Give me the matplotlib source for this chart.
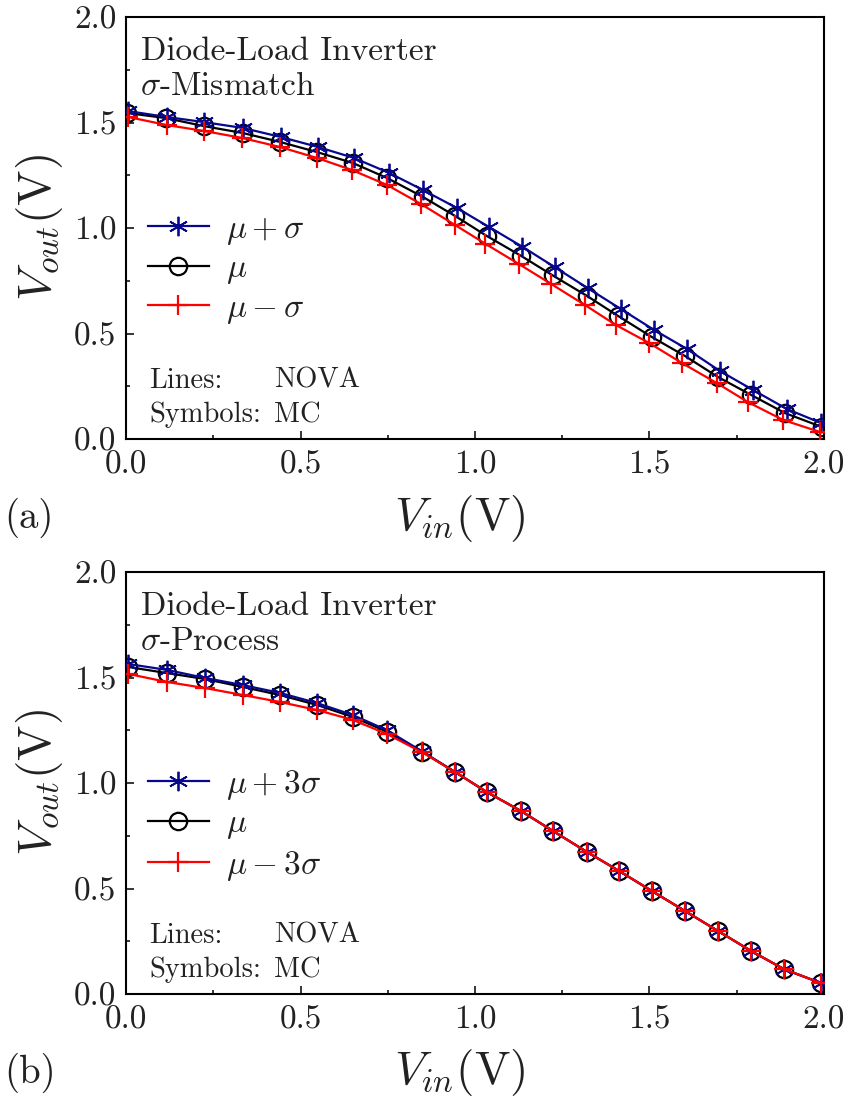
import matplotlib
matplotlib.use("Agg")
import matplotlib.pyplot as plt
from matplotlib.ticker import MultipleLocator

plt.rcParams['font.family'] = ['cmr10', 'DejaVu Serif']
plt.rcParams['mathtext.fontset'] = 'cm'
plt.rcParams['axes.formatter.use_mathtext'] = True
plt.rcParams['axes.unicode_minus'] = False

# ---------------- data: panel (a) sigma-mismatch ----------------
xa_plus = [0.006, 0.117, 0.223, 0.335, 0.444, 0.550, 0.653, 0.754, 0.851, 0.948, 1.040,
           1.135, 1.228, 1.323, 1.418, 1.513, 1.607, 1.702, 1.797, 1.894, 1.991]
ya_plus = [1.554, 1.526, 1.502, 1.474, 1.431, 1.384, 1.332, 1.261, 1.180, 1.095, 1.005,
           0.912, 0.815, 0.715, 0.616, 0.517, 0.427, 0.322, 0.232, 0.142, 0.076]
xa_mu = [0.003, 0.114, 0.223, 0.335, 0.441, 0.547, 0.650, 0.748, 0.851, 0.943, 1.034,
         1.132, 1.223, 1.321, 1.410, 1.507, 1.602, 1.696, 1.791, 1.888, 1.994]
ya_mu = [1.545, 1.521, 1.483, 1.450, 1.408, 1.360, 1.308, 1.237, 1.147, 1.057, 0.962,
         0.868, 0.775, 0.678, 0.583, 0.483, 0.393, 0.294, 0.209, 0.123, 0.057]
xa_minus = [0.006, 0.117, 0.223, 0.332, 0.441, 0.547, 0.647, 0.748, 0.845, 0.943, 1.030,
            1.125, 1.218, 1.315, 1.404, 1.499, 1.593, 1.693, 1.782, 1.883, 1.989]
ya_minus = [1.526, 1.488, 1.460, 1.427, 1.384, 1.332, 1.275, 1.204, 1.114, 1.014, 0.925,
            0.830, 0.735, 0.635, 0.540, 0.455, 0.360, 0.265, 0.175, 0.090, 0.033]

# ---------------- data: panel (b) sigma-process ----------------
xb = [0.006, 0.117, 0.226, 0.335, 0.441, 0.547, 0.650, 0.748, 0.848, 0.943, 1.034,
      1.132, 1.223, 1.321, 1.413, 1.507, 1.602, 1.696, 1.791, 1.885, 1.991]
yb_plus = [1.564, 1.536, 1.498, 1.464, 1.427, 1.379, 1.322, 1.250, 1.150, 1.052, 0.957,
           0.867, 0.773, 0.673, 0.583, 0.488, 0.393, 0.299, 0.204, 0.118, 0.052]
yb_mu = [1.550, 1.521, 1.493, 1.455, 1.417, 1.370, 1.313, 1.243, 1.148, 1.052, 0.957,
         0.867, 0.773, 0.673, 0.583, 0.488, 0.393, 0.299, 0.204, 0.118, 0.052]
yb_minus = [1.517, 1.479, 1.450, 1.417, 1.384, 1.346, 1.299, 1.232, 1.146, 1.052, 0.957,
            0.867, 0.773, 0.673, 0.583, 0.488, 0.393, 0.299, 0.204, 0.118, 0.052]

labels_a = [r'$\mu+\sigma$', r'$\mu$', r'$\mu-\sigma$']
labels_b = [r'$\mu+3\sigma$', r'$\mu$', r'$\mu-3\sigma$']
titles = [['Diode-Load Inverter', r'$\sigma$-Mismatch'],
          ['Diode-Load Inverter', r'$\sigma$-Process']]
panel_tags = ['(a)', '(b)']

BLUE = '#08088f'
RED = '#ff0000'
BLACK = '#000000'
TXT = '#222222'

W, H = 848, 1097
fig = plt.figure(figsize=(W / 100, H / 100), dpi=100)
ax1 = fig.add_axes([126 / W, 1 - 439 / H, 698 / W, 422 / H])
ax2 = fig.add_axes([126 / W, 1 - 994 / H, 698 / W, 422 / H])

asterisk = (6, 2, 0)

def draw(ax, series, labels, title, tag, label_y):
    styles = [dict(color=BLUE, marker=asterisk, ms=14, mew=1.3, zorder=3),
              dict(color=BLACK, marker='o', ms=12.5, mfc='none', mew=1.6, zorder=2),
              dict(color=RED, marker='+', ms=15, mew=1.6, zorder=4)]
    handles = []
    for (x, y), st, lab in zip(series, styles, labels):
        h, = ax.plot(x, y, lw=1.6, label=lab, **st)
        handles.append(h)
    ax.set_xlim(0, 2.0)
    ax.set_ylim(0, 2.0)
    ax.xaxis.set_major_locator(MultipleLocator(0.5))
    ax.xaxis.set_minor_locator(MultipleLocator(0.25))
    ax.yaxis.set_major_locator(MultipleLocator(0.5))
    ax.yaxis.set_minor_locator(MultipleLocator(0.25))
    ax.xaxis.set_major_formatter(plt.FormatStrFormatter('%.1f'))
    ax.yaxis.set_major_formatter(plt.FormatStrFormatter('%.1f'))
    ax.tick_params(which='both', direction='in', top=False, right=False,
                   labelsize=24, width=1.1, labelcolor=TXT)
    ax.tick_params(which='major', length=6)
    ax.tick_params(which='minor', length=3)
    ax.tick_params(axis='y', which='major', pad=7)
    ax.tick_params(axis='x', which='major', pad=8)
    for sp in ax.spines.values():
        sp.set_linewidth(1.5)
    ax.text(0.022, 0.898, title[0], transform=ax.transAxes, fontsize=24,
            va='baseline', ha='left', color=TXT)
    ax.text(0.020, 0.815, title[1], transform=ax.transAxes, fontsize=24,
            va='baseline', ha='left', color=TXT)
    ax.text(0.033, 0.121, 'Lines:', transform=ax.transAxes, fontsize=20.5,
            va='baseline', ha='left', color=TXT)
    ax.text(0.212, 0.121, 'NOVA', transform=ax.transAxes, fontsize=20.5,
            va='baseline', ha='left', color=TXT)
    ax.text(0.033, 0.040, 'Symbols:', transform=ax.transAxes, fontsize=20.5,
            va='baseline', ha='left', color=TXT)
    ax.text(0.212, 0.040, 'MC', transform=ax.transAxes, fontsize=20.5,
            va='baseline', ha='left', color=TXT)
    leg = ax.legend(handles=handles, loc='center left', bbox_to_anchor=(0.031, 0.40),
                    frameon=False, fontsize=24, handlelength=1.85, handletextpad=0.5,
                    labelspacing=0.22, borderpad=0, borderaxespad=0)
    for t in leg.get_texts():
        t.set_color(TXT)
    ax.set_ylabel(r'$V_{out}$(V)', fontsize=34, labelpad=6, color=TXT)
    fig.text(460 / W, 1 - label_y / H, r'$V_{in}$(V)', fontsize=34,
             ha='center', va='center', color=TXT)
    fig.text(4 / W, 1 - label_y / H, tag, fontsize=28, ha='left', va='center',
             color=TXT)

draw(ax1, [(xa_plus, ya_plus), (xa_mu, ya_mu), (xa_minus, ya_minus)],
     labels_a, titles[0], panel_tags[0], 518)
draw(ax2, [(xb, yb_plus), (xb, yb_mu), (xb, yb_minus)],
     labels_b, titles[1], panel_tags[1], 1073)

fig.savefig('out.png', dpi=100)
